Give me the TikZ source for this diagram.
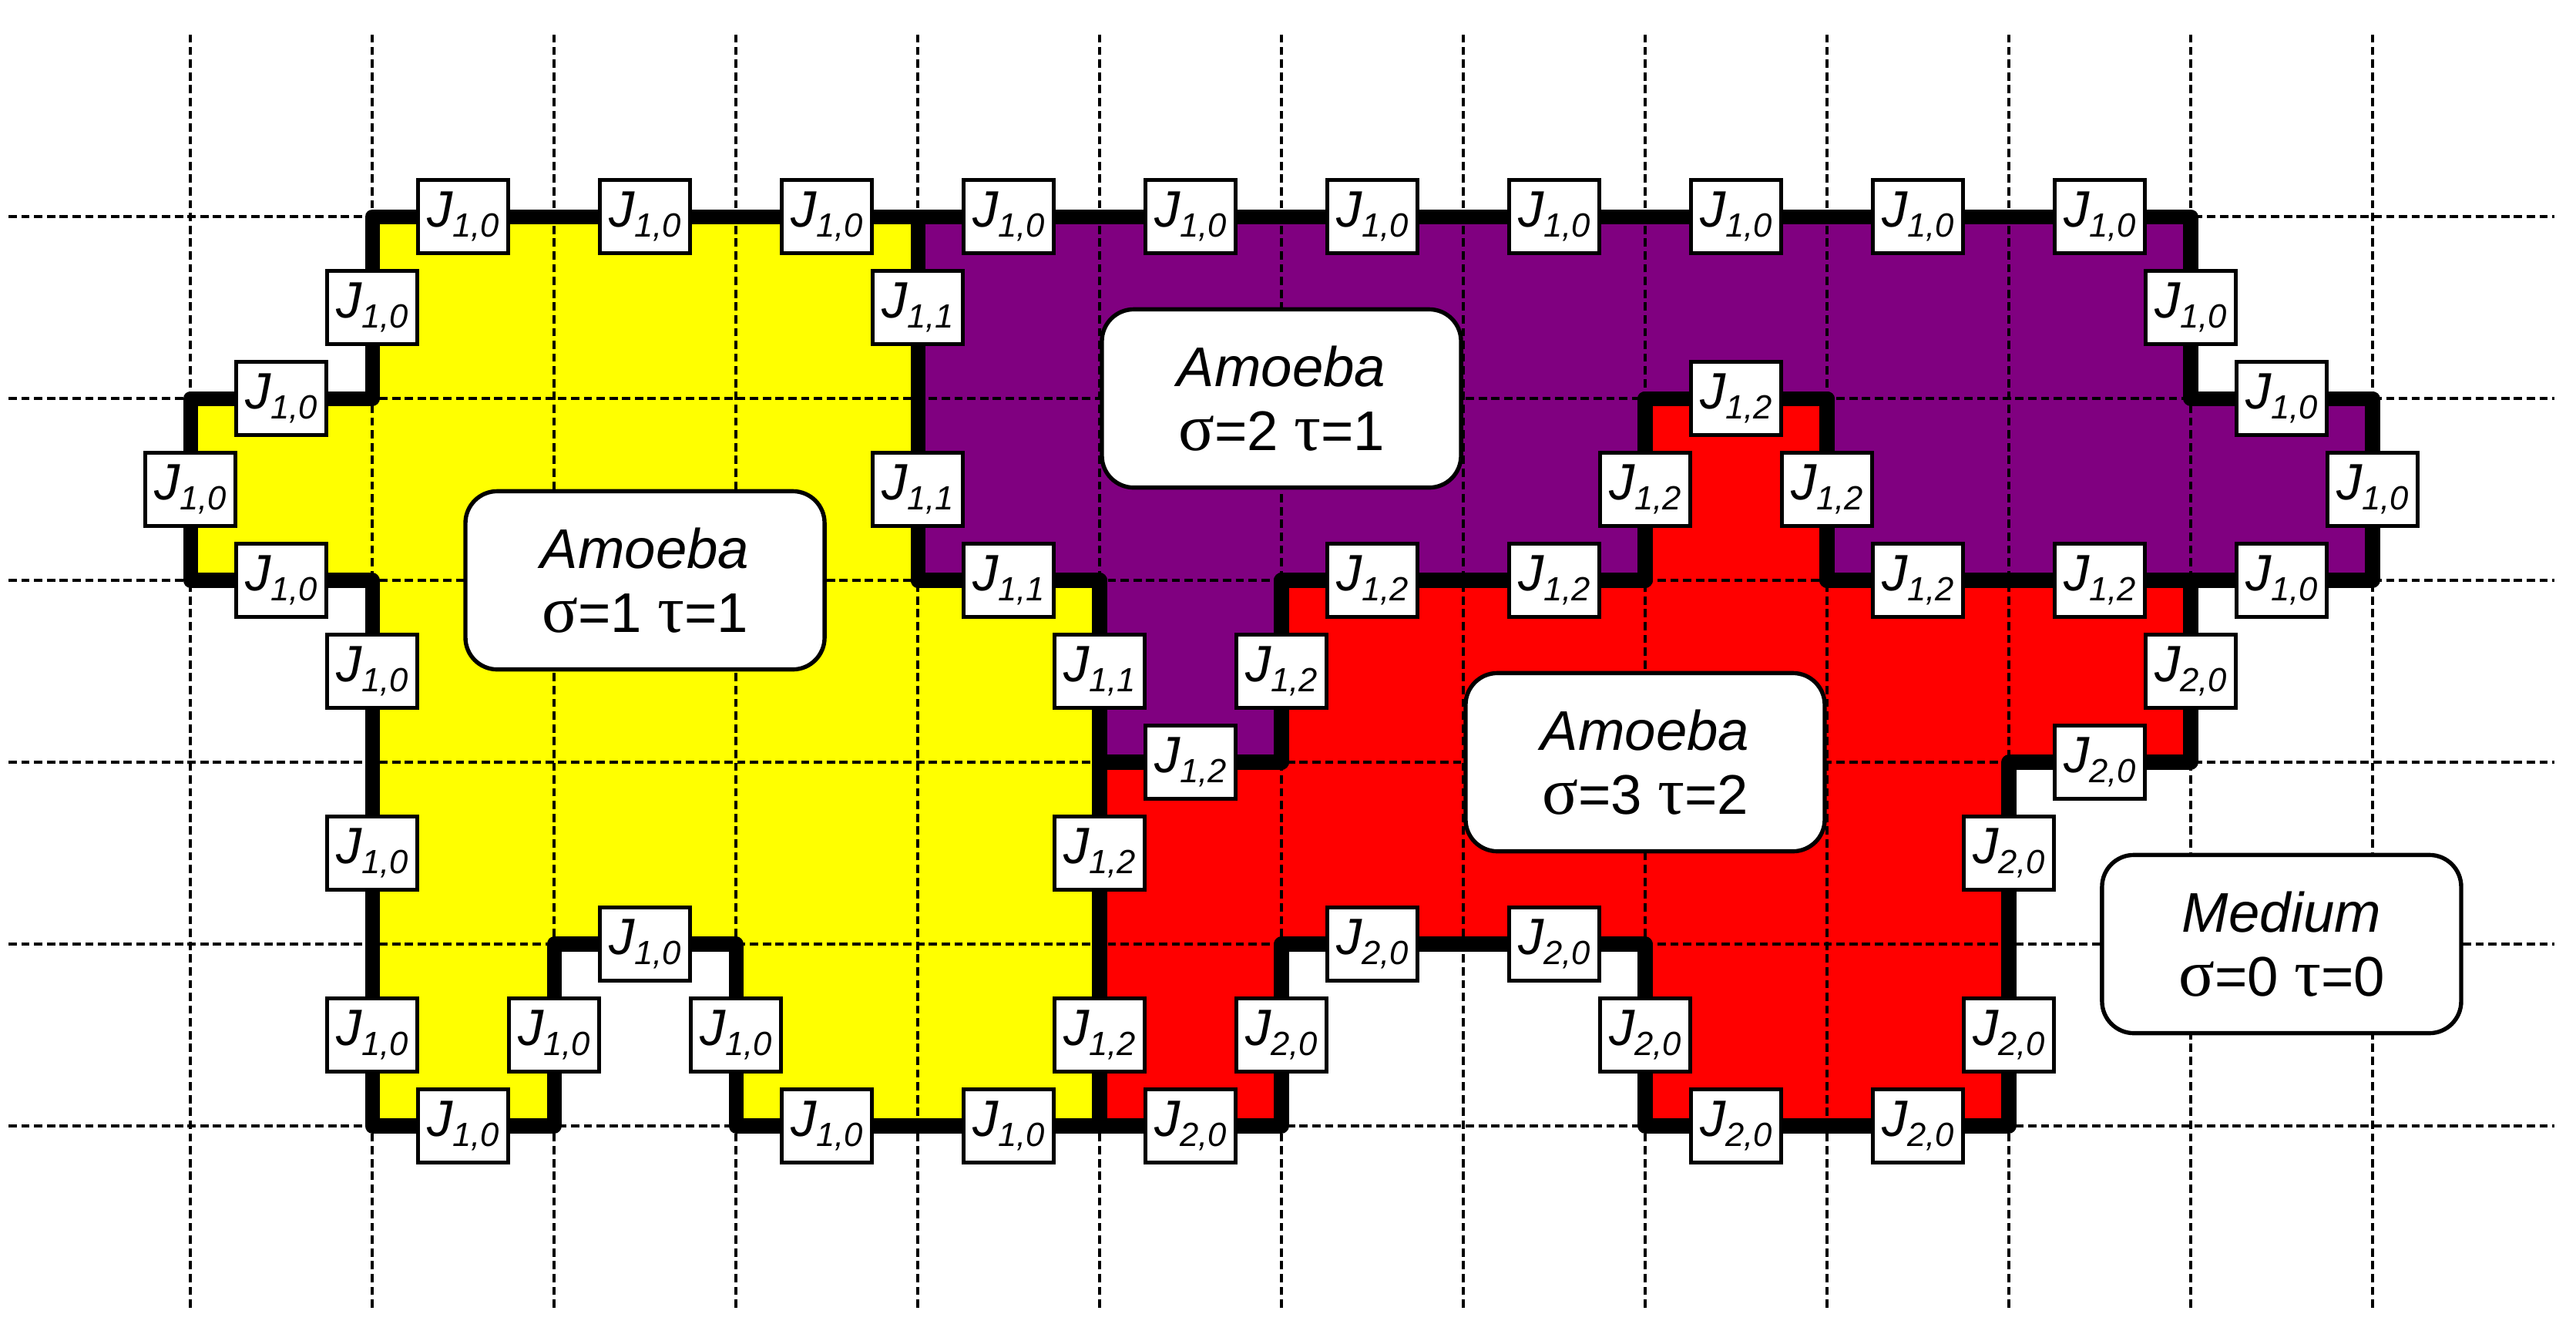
\documentclass[tikz,border=0pt]{standalone}
\usepackage{fontspec}
\setmainfont{Liberation Sans}
\newfontfamily\greekfont[Scale=1.2]{Liberation Serif}
\definecolor{amoebayellow}{RGB}{255,255,0}
\definecolor{amoebapurple}{RGB}{128,0,128}
\definecolor{amoebared}{RGB}{255,0,0}
\newcommand{\Jsub}[1]{\textit{J\raisebox{-0.19em}{\fontsize{10.5}{10.5}\selectfont #1}}}
\newcommand{\sig}{{\greekfont σ}}
\newcommand{\ta}{{\greekfont τ}}
\begin{document}
\begin{tikzpicture}[x=2cm,y=2cm,
  jbox/.style={draw,fill=white,line width=1.2pt,minimum width=0.99cm,minimum height=0.8cm,inner sep=0pt,font=\fontsize{16}{16}\selectfont},
  cellbox/.style={draw,fill=white,line width=1.3pt,rounded corners=0.35cm,minimum width=3.95cm,minimum height=1.96cm,inner sep=0pt,align=center,font=\fontsize{17.5}{20}\selectfont},
  wall/.style={line width=4.6pt,line join=round},
  gridline/.style={line width=0.8pt,dash pattern=on 2.6pt off 1.4pt}]
\useasboundingbox (-1.047,-1.085) rectangle (13.119,6.191);
\fill[amoebayellow] (1,5) -- (4,5) -- (4,3) -- (5,3) -- (5,0) -- (3,0) -- (3,1) -- (2,1) -- (2,0) -- (1,0) -- (1,3) -- (0,3) -- (0,4) -- (1,4) -- cycle;
\fill[amoebapurple] (4,5) -- (11,5) -- (11,4) -- (12,4) -- (12,3) -- (9,3) -- (9,4) -- (8,4) -- (8,3) -- (6,3) -- (6,2) -- (5,2) -- (5,3) -- (4,3) -- cycle;
\fill[amoebared] (5,2) -- (6,2) -- (6,3) -- (8,3) -- (8,4) -- (9,4) -- (9,3) -- (11,3) -- (11,2) -- (10,2) -- (10,0) -- (8,0) -- (8,1) -- (6,1) -- (6,0) -- (5,0) -- cycle;
 \foreach \x in {0,...,12}
 \draw[gridline] (\x,-1) -- (\x,6);
 \foreach \y in {0,...,5}
 \draw[gridline] (-1,\y) -- (13,\y);
\draw[wall] (1,5) -- (4,5) -- (4,3) -- (5,3) -- (5,0) -- (3,0) -- (3,1) -- (2,1) -- (2,0) -- (1,0) -- (1,3) -- (0,3) -- (0,4) -- (1,4) -- cycle;
\draw[wall] (4,5) -- (11,5) -- (11,4) -- (12,4) -- (12,3) -- (9,3) -- (9,4) -- (8,4) -- (8,3) -- (6,3) -- (6,2) -- (5,2) -- (5,3) -- (4,3) -- cycle;
\draw[wall] (5,2) -- (6,2) -- (6,3) -- (8,3) -- (8,4) -- (9,4) -- (9,3) -- (11,3) -- (11,2) -- (10,2) -- (10,0) -- (8,0) -- (8,1) -- (6,1) -- (6,0) -- (5,0) -- cycle;
 \foreach \x/\y [count=\k] in {1.5/5,2.5/5,3.5/5,1/4.5,0.5/4,0/3.5,0.5/3,1/2.5,1/1.5,1/0.5,1.5/0,2/0.5,2.5/1,3/0.5,3.5/0,4.5/0,
   4.5/5,5.5/5,6.5/5,7.5/5,8.5/5,9.5/5,10.5/5,11/4.5,11.5/4,12/3.5,11.5/3}
 \node[jbox] (ja\k) at (\x,\y) {\Jsub{1,0}};
 \foreach \x/\y [count=\k] in {4/4.5,4/3.5,4.5/3,5/2.5}
 \node[jbox] (jb\k) at (\x,\y) {\Jsub{1,1}};
 \foreach \x/\y [count=\k] in {5/1.5,5/0.5,5.5/2,6/2.5,6.5/3,7.5/3,8/3.5,8.5/4,9/3.5,9.5/3,10.5/3}
 \node[jbox] (jc\k) at (\x,\y) {\Jsub{1,2}};
 \foreach \x/\y [count=\k] in {11/2.5,10.5/2,10/1.5,10/0.5,9.5/0,8.5/0,8/0.5,7.5/1,6.5/1,6/0.5,5.5/0}
 \node[jbox] (jd\k) at (\x,\y) {\Jsub{2,0}};
\node[cellbox] (amoeba1) at (2.5,3) {\textit{Amoeba}\\\sig=1 \ta=1};
\node[cellbox] (amoeba2) at (6,4) {\textit{Amoeba}\\\sig=2 \ta=1};
\node[cellbox] (amoeba3) at (8,2) {\textit{Amoeba}\\\sig=3 \ta=2};
\node[cellbox] (medium) at (11.5,1) {\textit{Medium}\\\sig=0 \ta=0};
\end{tikzpicture}
\end{document}
